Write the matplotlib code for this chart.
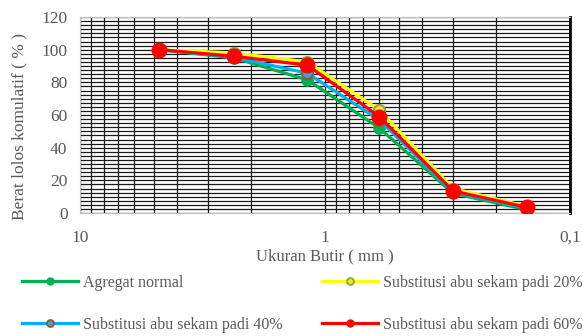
import numpy as np
import matplotlib.pyplot as plt
from matplotlib.lines import Line2D
from matplotlib.ticker import FixedLocator, FuncFormatter, MultipleLocator

plt.rcParams['font.family'] = ['Liberation Serif', 'DejaVu Serif']

# Ukuran saringan (mm) dan persen lolos kumulatif
ukuran = [4.75, 2.36, 1.18, 0.6, 0.3, 0.15]
normal = [100, 95, 81.5, 52, 12, 2]
abu20 = [100, 98, 92.5, 63, 15, 4]
abu40 = [100, 95.5, 85.5, 57, 13, 3]
abu60 = [100, 96, 90.5, 59, 13.5, 3.5]

label_normal = 'Agregat normal'
label_20 = 'Substitusi abu sekam padi 20%'
label_40 = 'Substitusi abu sekam padi 40%'
label_60 = 'Substitusi abu sekam padi 60%'

abu_teks = '#595959'

fig = plt.figure(figsize=(5.83, 3.36), dpi=100)
ax = fig.add_axes([80 / 583, 1 - 213 / 336, 490 / 583, 196 / 336])

ax.plot(ukuran, normal, color='#00B050', lw=2.3, marker='o', ms=8,
        mfc='#00B050', mec='#00B050', zorder=3)
ax.plot(ukuran, abu20, color='#FFFF00', lw=2.3, marker='o', ms=8,
        mfc='#E6E62E', mec='#8DA63A', mew=1.5, zorder=3)
ax.plot(ukuran, abu40, color='#00B0F0', lw=2.3, marker='o', ms=8,
        mfc='#3DA5D9', mec='#A0522D', mew=1.5, zorder=3)
ax.plot(ukuran, abu60, color='#FF0000', lw=2.3, marker='o', ms=10.5,
        mfc='#FF0000', mec='#FF0000', zorder=4)

ax.set_xscale('log')
ax.set_xlim(10, 0.1)
ax.set_ylim(0, 120)

ax.xaxis.set_major_locator(FixedLocator([10, 1, 0.1]))
ax.xaxis.set_minor_locator(FixedLocator(
    [k * 10.0 ** e for e in (0, -1) for k in range(2, 10)]))
ax.xaxis.set_major_formatter(FuncFormatter(
    lambda v, p: {10: '10', 1: '1', 0.1: '0,1'}.get(round(v, 3), '')))
ax.xaxis.set_minor_formatter(FuncFormatter(lambda v, p: ''))
ax.yaxis.set_major_locator(MultipleLocator(20))
ax.yaxis.set_minor_locator(MultipleLocator(2.5))

ax.grid(True, which='both', axis='both', color='#1a1a1a', lw=0.9, zorder=1)
ax.set_axisbelow(True)
ax.tick_params(which='both', length=0, labelsize=12.5, labelcolor=abu_teks)
ax.tick_params(axis='x', pad=12)
ax.tick_params(axis='y', pad=9)

for s in ax.spines.values():
    s.set_color('#bfbfbf')
ax.spines['right'].set_color('black')
ax.spines['right'].set_linewidth(2)

ax.set_xlabel('Ukuran Butir ( mm )', fontsize=12, color=abu_teks, labelpad=2)
ax.set_ylabel('Berat lolos komulatif ( % )', fontsize=12.5, color=abu_teks)
ax.yaxis.set_label_coords(-0.108, 0.44)

# Legenda: empat entri terpisah, dua kolom
entri = [
    (Line2D([], [], color='#00B050', lw=2.3, marker='o', ms=5,
            mfc='#00B050', mec='#00B050'), label_normal, 22, 283),
    (Line2D([], [], color='#FFFF00', lw=2.3, marker='o', ms=5,
            mfc='#E6E62E', mec='#8DA63A', mew=1.3), label_20, 322, 283),
    (Line2D([], [], color='#00B0F0', lw=2.3, marker='o', ms=5,
            mfc='#3DA5D9', mec='#A0522D', mew=1.3), label_40, 22, 325),
    (Line2D([], [], color='#FF0000', lw=2.3, marker='o', ms=5,
            mfc='#FF0000', mec='#FF0000'), label_60, 322, 325),
]
for h, lab, px, py in entri:
    fig.legend(handles=[h], labels=[lab], loc='center left',
               bbox_to_anchor=(px / 583, 1 - py / 336), frameon=False,
               fontsize=11.5, labelcolor=abu_teks, handlelength=3.5,
               handletextpad=0.3, borderpad=0, borderaxespad=0)

fig.savefig('out.png', dpi=100)
